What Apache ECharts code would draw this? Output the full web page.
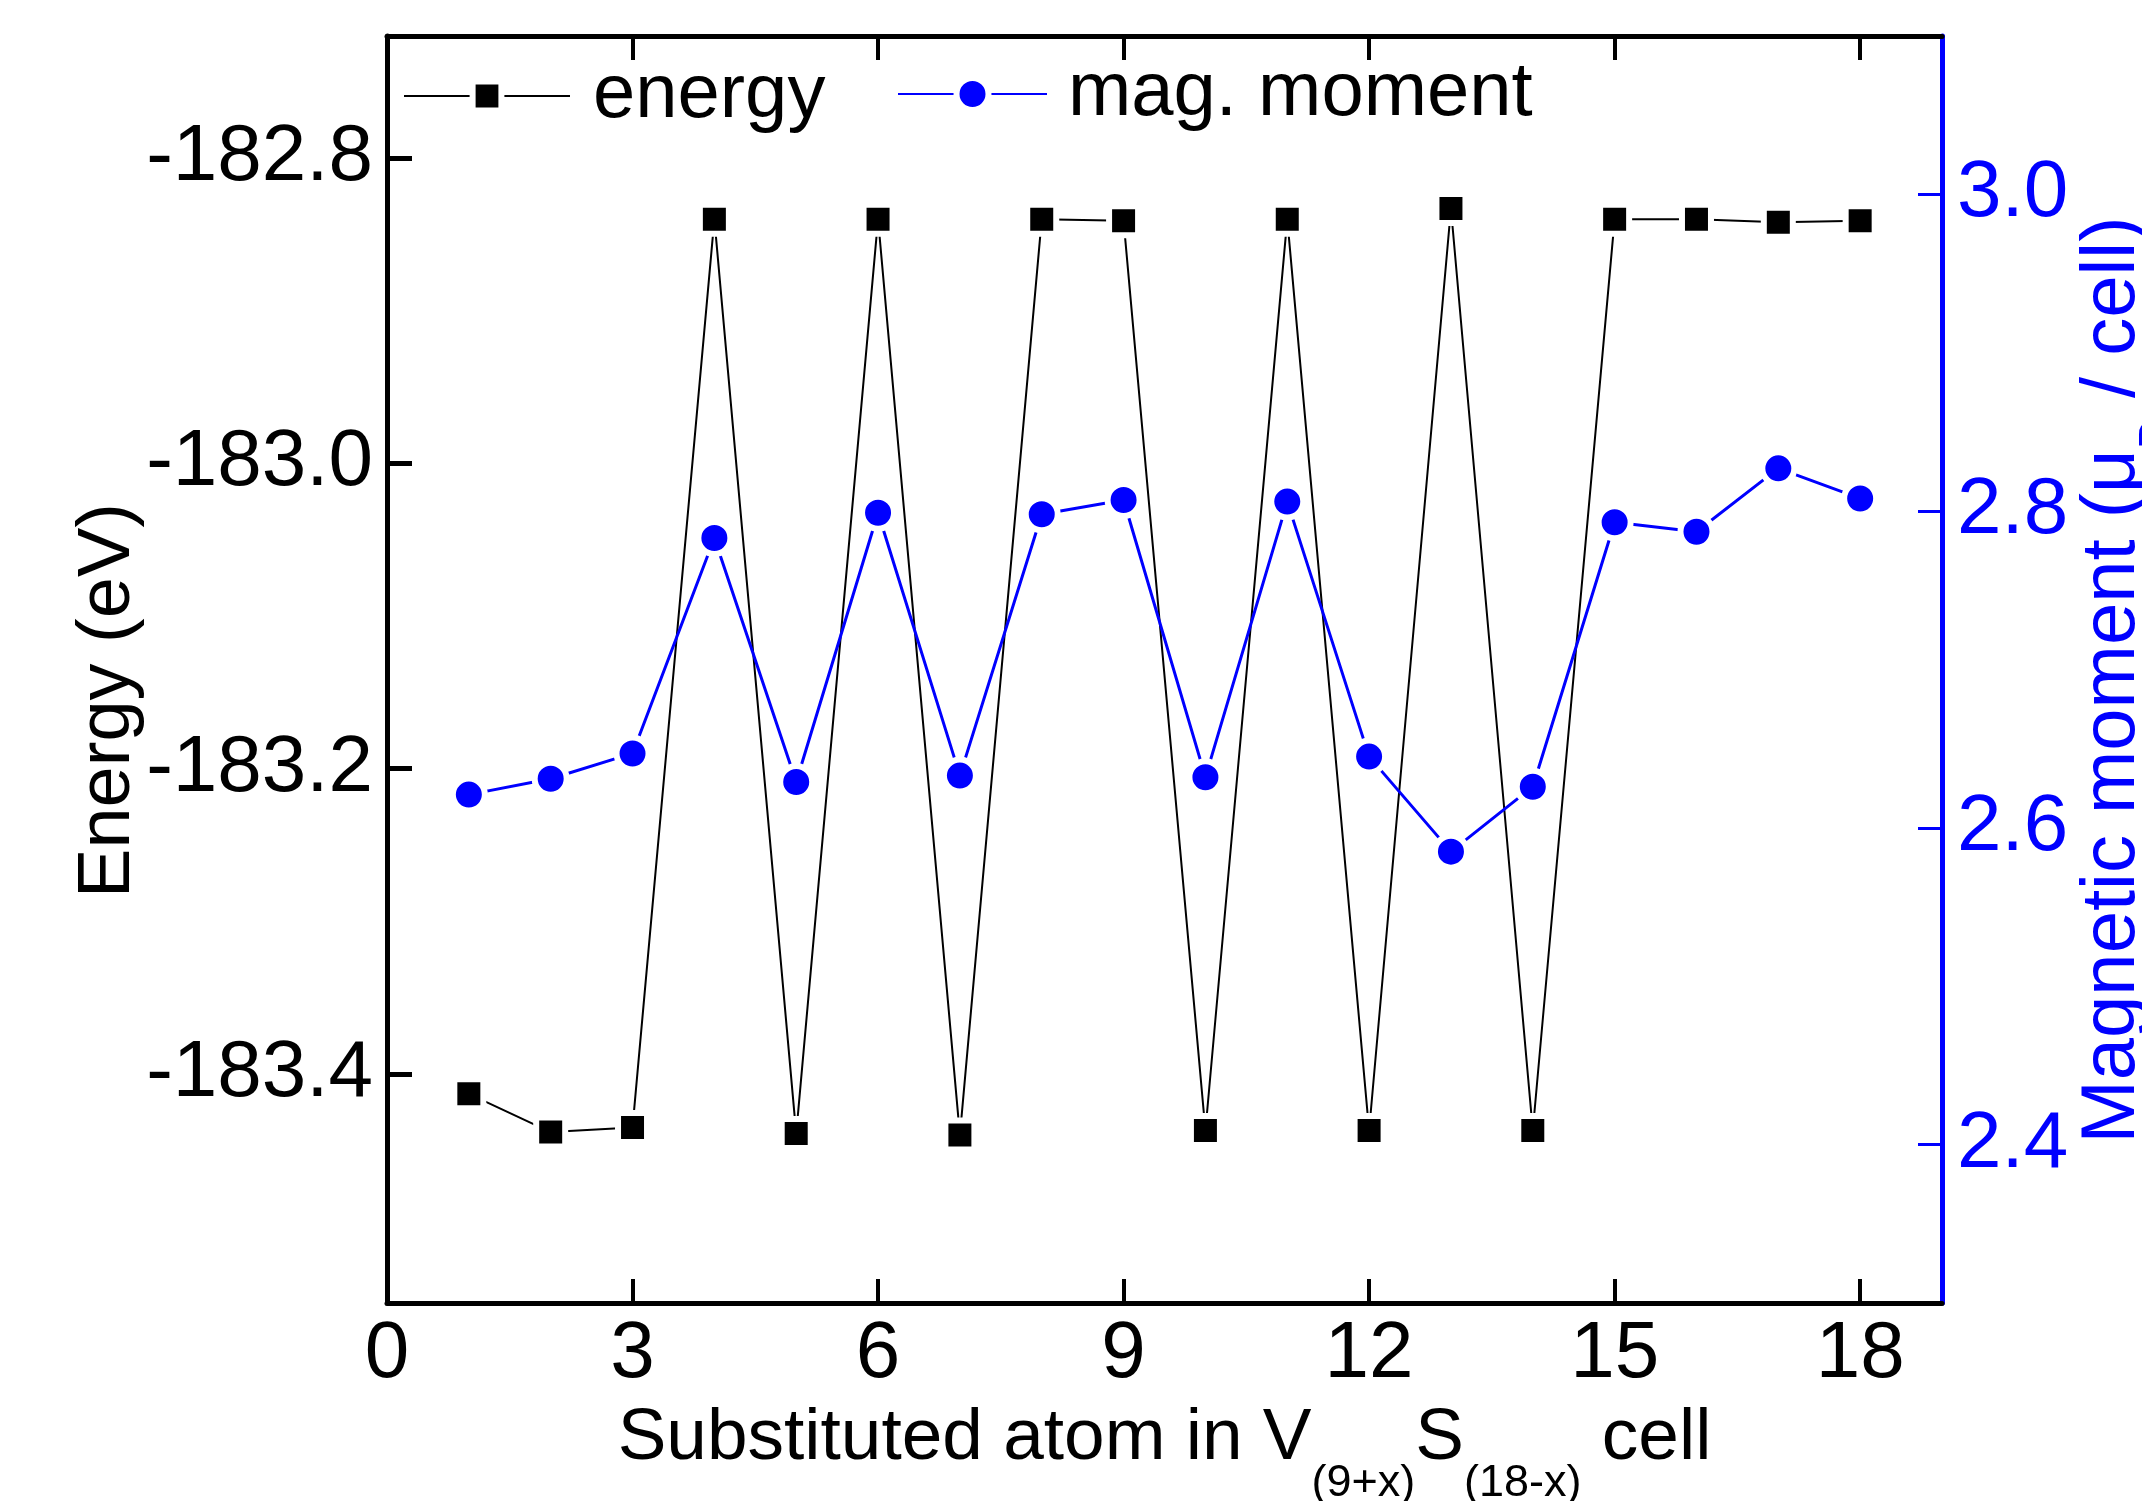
<!DOCTYPE html>
<html>
<head>
<meta charset="utf-8">
<script src="https://cdn.jsdelivr.net/npm/echarts@6/dist/echarts.min.js"></script>
<style>
  html, body { margin: 0; padding: 0; background: #fff; }
  #chart { width: 2142px; height: 1501px; }
</style>
</head>
<body>
<div id="chart"></div>
<script>
// substituted atom index
const atoms = [1, 2, 3, 4, 5, 6, 7, 8, 9, 10, 11, 12, 13, 14, 15, 16, 17, 18]
// total energy (eV)
const energy = [
  -183.413, -183.438, -183.435, -182.840, -183.439, -182.840, -183.440, -182.840, -182.841,
  -183.437, -182.840, -183.437, -182.833, -183.437, -182.840, -182.840, -182.842, -182.841
]
// magnetic moment (uB / cell)
const moment = [
  2.621, 2.631, 2.647, 2.783, 2.629, 2.799, 2.633, 2.798, 2.807,
  2.632, 2.806, 2.645, 2.585, 2.626, 2.793, 2.787, 2.827, 2.808
]
const xTicks = [0, 3, 6, 9, 12, 15, 18]
const energyTicks = [-183.4, -183.2, -183.0, -182.8]
const momentTicks = [2.4, 2.6, 2.8, 3.0]

const BLUE = '#0000ff'
const FONT = '"Liberation Sans", Arial, sans-serif'

const chart = echarts.init(document.getElementById('chart'))

const xBase = {
  type: 'value',
  min: 0,
  max: 19,
  axisLine: { show: true, onZero: false, lineStyle: { color: '#000', width: 5 } },
  axisTick: { show: true, inside: true, length: 24, customValues: xTicks, lineStyle: { color: '#000', width: 4 } },
  splitLine: { show: false }
}

chart.setOption({
  animation: false,
  backgroundColor: '#fff',
  grid: { left: 387, top: 36, width: 1555, height: 1267, containLabel: false, outerBoundsMode: 'none' },
  legend: [
    {
      data: ['energy'],
      left: 403,
      top: 58,
      padding: 0,
      itemWidth: 166,
      itemHeight: 36,
      itemStyle: { borderColor: '#fff', borderWidth: 6 },
      textStyle: { fontFamily: FONT, fontSize: 76, color: '#000', lineHeight: 36, padding: [0, 0, 8, 18] }
    },
    {
      data: ['mag. moment'],
      left: 897,
      top: 56,
      padding: 0,
      itemWidth: 149,
      itemHeight: 40,
      itemStyle: { borderColor: '#fff', borderWidth: 6 },
      textStyle: { fontFamily: FONT, fontSize: 76, color: '#000', lineHeight: 40, padding: [0, 0, 8, 16] }
    }
  ],
  xAxis: [
    Object.assign({}, xBase, {
      position: 'bottom',
      axisLabel: {
        customValues: xTicks,
        margin: 12,
        fontFamily: FONT,
        fontSize: 80,
        color: '#000'
      },
      name: '{a|Substituted atom in V}{s|(9+x)}{a|S}{s|(18-x)}{a| cell}',
      nameLocation: 'middle',
      nameGap: 68,
      nameMoveOverlap: false,
      nameTextStyle: {
        rich: {
          a: { fontFamily: FONT, fontSize: 73, lineHeight: 136, color: '#000' },
          s: { fontFamily: FONT, fontSize: 45, lineHeight: 45, padding: [90, 0, 0, 0], color: '#000' }
        }
      }
    }),
    Object.assign({}, xBase, {
      position: 'top',
      axisLabel: { show: false }
    })
  ],
  yAxis: [
    {
      type: 'value',
      position: 'left',
      min: -183.55,
      max: -182.72,
      axisLine: { show: true, onZero: false, lineStyle: { color: '#000', width: 5 } },
      axisTick: { show: true, inside: true, length: 25, customValues: energyTicks, lineStyle: { color: '#000', width: 5 } },
      axisLabel: {
        customValues: energyTicks,
        margin: 14,
        fontFamily: FONT,
        fontSize: 80,
        color: '#000',
        formatter: v => v.toFixed(1)
      },
      splitLine: { show: false },
      name: 'Energy (eV)',
      nameLocation: 'middle',
      nameRotate: 90,
      nameGap: 241,
      nameMoveOverlap: false,
      nameTextStyle: { fontFamily: FONT, fontSize: 74, lineHeight: 74, color: '#000', padding: [0, 62, 0, 0] }
    },
    {
      type: 'value',
      position: 'right',
      min: 2.3,
      max: 3.1,
      axisLine: { show: true, onZero: false, lineStyle: { color: BLUE, width: 5 } },
      axisTick: { show: true, inside: true, length: 24, customValues: momentTicks, lineStyle: { color: BLUE, width: 3 } },
      axisLabel: {
        customValues: momentTicks,
        margin: 15,
        fontFamily: FONT,
        fontSize: 80,
        color: BLUE,
        formatter: v => v.toFixed(1)
      },
      splitLine: { show: false },
      name: '{a|Magnetic moment (μ}{s|B}{a| / cell)}',
      nameLocation: 'middle',
      nameRotate: 90,
      nameGap: 103,
      nameMoveOverlap: false,
      nameTextStyle: {
        padding: [0, 21, 0, 0],
        rich: {
          a: { fontFamily: FONT, fontSize: 76, lineHeight: 136, color: BLUE },
          s: { fontFamily: FONT, fontSize: 45, lineHeight: 45, padding: [90, 0, 0, 0], color: BLUE }
        }
      }
    }
  ],
  series: [
    {
      name: 'energy',
      type: 'line',
      xAxisIndex: 0,
      yAxisIndex: 0,
      data: atoms.map((x, i) => [x, energy[i]]),
      symbol: 'rect',
      symbolSize: 29,
      itemStyle: { color: '#000', borderColor: '#fff', borderWidth: 6 },
      lineStyle: { color: '#000', width: 2 },
      z: 2
    },
    {
      name: 'mag. moment',
      type: 'line',
      xAxisIndex: 0,
      yAxisIndex: 1,
      data: atoms.map((x, i) => [x, moment[i]]),
      symbol: 'circle',
      symbolSize: 32,
      itemStyle: { color: BLUE, borderColor: '#fff', borderWidth: 6 },
      lineStyle: { color: BLUE, width: 3 },
      z: 3
    }
  ]
})
</script>
</body>
</html>
